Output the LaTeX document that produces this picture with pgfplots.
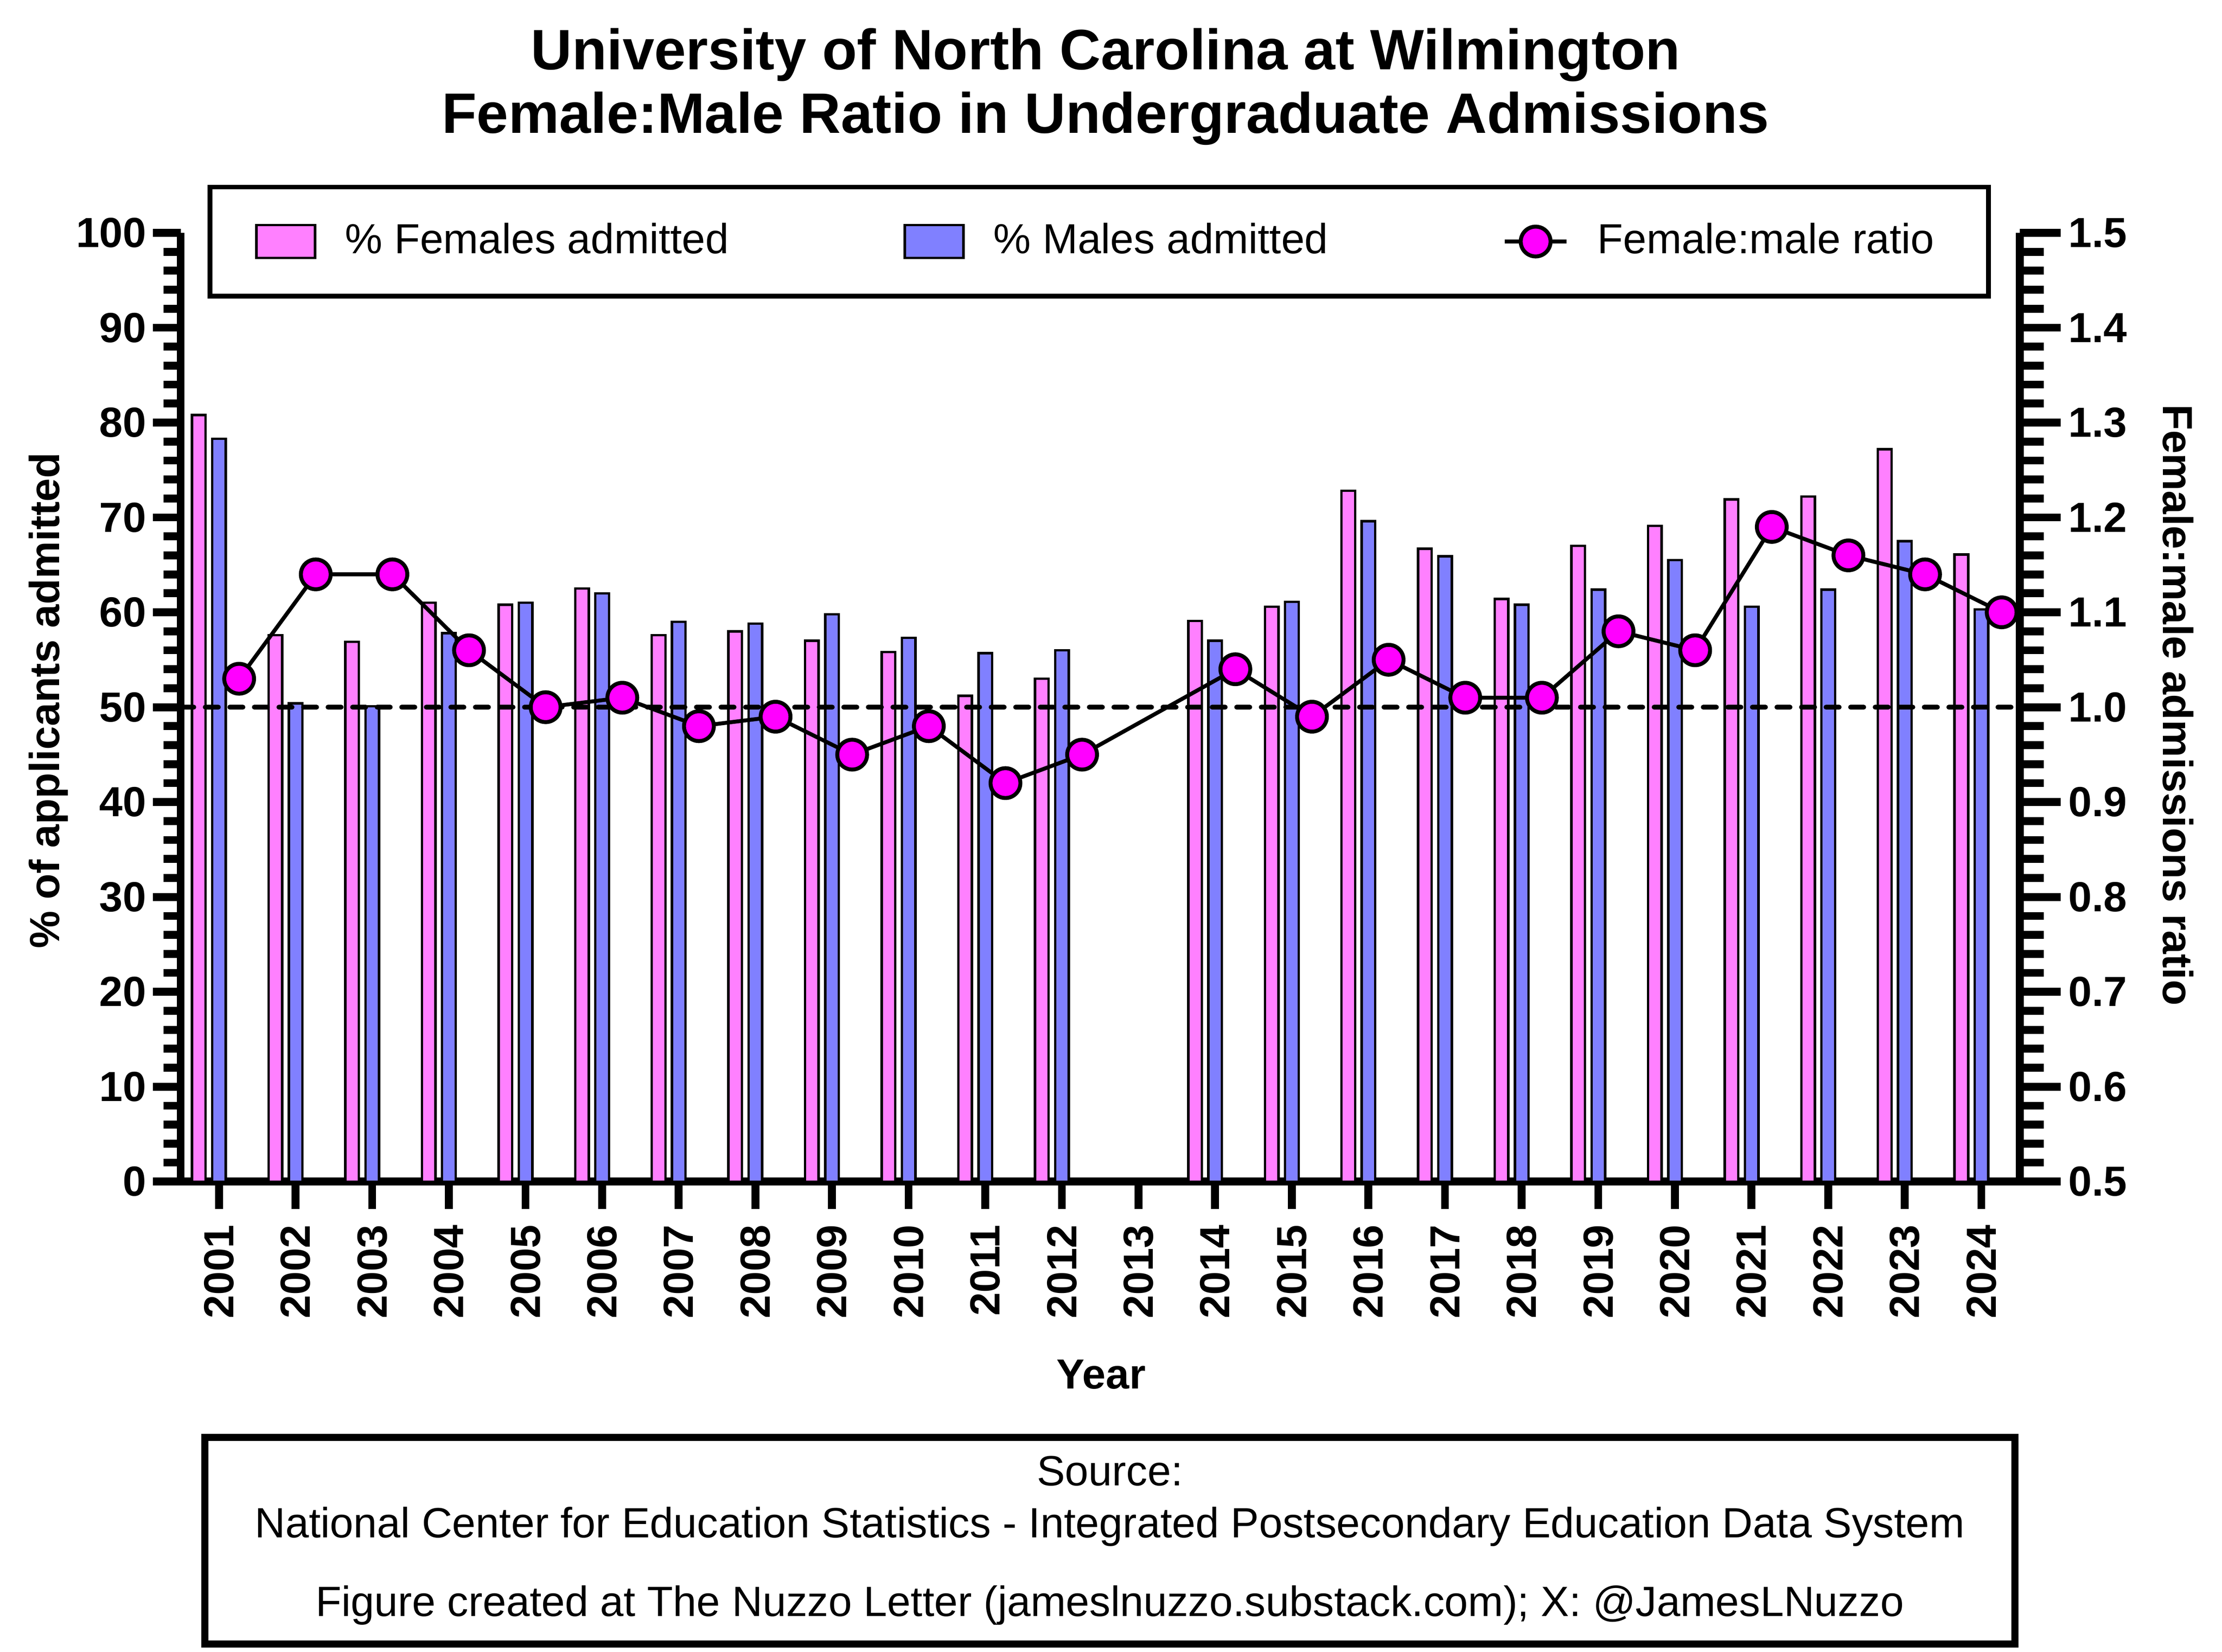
\documentclass[border=0pt]{standalone}
\usepackage{fontspec}
\setmainfont{Liberation Sans}
\usepackage{pgfplots}
\pgfplotsset{compat=1.18}
\usepackage{pgfplotstable}
\definecolor{pinkF}{RGB}{255,128,255}
\definecolor{blueM}{RGB}{128,128,255}
\definecolor{magM}{RGB}{255,0,255}

\pgfplotstableread{
year F M R
2001 80.8 78.3 1.03
2002 57.6 50.4 1.14
2003 56.9 50.1 1.14
2004 61.0 57.8 1.06
2005 60.8 61.0 1.00
2006 62.5 62.0 1.01
2007 57.6 59.0 0.98
2008 58.0 58.8 0.99
2009 57.0 59.8 0.95
2010 55.8 57.3 0.98
2011 51.2 55.7 0.92
2012 53.0 56.0 0.95
2014 59.1 57.0 1.04
2015 60.6 61.1 0.99
2016 72.8 69.6 1.05
2017 66.7 65.9 1.01
2018 61.4 60.8 1.01
2019 67.0 62.4 1.08
2020 69.1 65.5 1.06
2021 71.9 60.6 1.19
2022 72.2 62.4 1.16
2023 77.2 67.5 1.14
2024 66.1 60.3 1.10
}\data

\pgfplotsset{
  barlegend/.style={legend image code/.code={\draw[##1] (0pt,-3.75pt) rectangle (13.4pt,3.75pt);}},
  ratiolegend/.style={legend image code/.code={\draw[mark repeat=2,mark phase=2,##1] plot coordinates {(0pt,0pt) (7.05pt,0pt) (14.1pt,0pt)};}},
  common/.style={
    width=419.4pt, height=216.4pt, scale only axis,
    xmin=2000.5, xmax=2024.5,
    clip=false,
    axis line style={line width=1.8pt, black},
    tick style={line width=1.8pt, black},
    tick align=outside,
    /pgf/number format/assume math mode=true,
    /pgf/number format/1000 sep={},
    ticklabel style={font=\bfseries\fontsize{9.6}{11}\selectfont},
    label style={font=\bfseries\fontsize{9.6}{11}\selectfont},
  }
}

\begin{document}
\begin{tikzpicture}
\useasboundingbox (-41.2pt,-107.2pt) rectangle (465.5pt,269.5pt);

\node[anchor=base, font=\bfseries\fontsize{13}{15.5}\selectfont] at (210.9pt,253.6pt) {University of North Carolina at Wilmington};
\node[anchor=base, font=\bfseries\fontsize{13}{15.5}\selectfont] at (210.9pt,239.1pt) {Female:Male Ratio in Undergraduate Admissions};

\begin{axis}[common,
  axis x line*=bottom, axis y line*=left,
  ymin=0, ymax=100,
  xtick={2001,...,2024},
  ytick={0,10,...,100},
  minor y tick num=4,
  major tick length=6.3pt, minor tick length=3.9pt,
  xticklabel style={rotate=90, anchor=east},
  yticklabel style={xshift=2pt},
  xlabel={Year},
  ylabel={\% of applicants admitted},
  xlabel style={at={(axis description cs:0.5005,-0.2181)}, anchor=base},
  ylabel style={at={(axis description cs:-0.066,0.507)}, anchor=base},
]
\addplot[ybar, bar width=3.1pt, bar shift=-4.6pt, fill=pinkF, draw=black, line width=0.55pt] table[x=year, y=F] {\data};
\addplot[ybar, bar width=3.1pt, bar shift=0pt, fill=blueM, draw=black, line width=0.55pt] table[x=year, y=M] {\data};
\addplot[black, line width=1.1pt, dash pattern=on 3pt off 2.6pt, line cap=round] coordinates {(2000.5,50) (2024.5,50)};
\end{axis}

\begin{axis}[common,
  axis x line=none, axis y line*=right,
  ymin=0.5, ymax=1.5,
  ytick={0.5,0.6,0.7,0.8,0.9,1.0,1.1,1.2,1.3,1.4,1.5},
  minor y tick num=4,
  major tick length=9.3pt, minor tick length=5.5pt,
  yticklabel style={xshift=-1.7pt, /pgf/number format/fixed, /pgf/number format/fixed zerofill, /pgf/number format/precision=1},
  ylabel={Female:male admissions ratio},
  ylabel style={at={(axis description cs:1.078,0.5023)}, anchor=base, rotate=180},
  legend columns=3,
  legend cell align=left,
  legend style={at={(axis description cs:0.4994,0.9908)}, anchor=center, draw=black, line width=1.1pt, fill=white,
    font=\fontsize{9.6}{11}\selectfont, inner xsep=10.3pt, inner ysep=6.2pt,
    /tikz/every even column/.append style={column sep=37.8pt},
    /tikz/every odd column/.append style={column sep=4.6pt}},
]
\addlegendimage{barlegend, draw=black, fill=pinkF, line width=0.55pt}
\addlegendentry{\% Females admitted}
\addlegendimage{barlegend, draw=black, fill=blueM, line width=0.55pt}
\addlegendentry{\% Males admitted}
\addplot[black, line width=0.9pt, mark=*, mark size=3.4pt, mark options={fill=magM, draw=black, solid}, ratiolegend] table[x expr=\thisrow{year}+0.263, y=R] {\data};
\addlegendentry{Female:male ratio}
\end{axis}

\draw[line width=1.6pt] (5.5pt,-58.3pt) rectangle (418.3pt,-105.5pt);
\node[anchor=base, font=\fontsize{9.65}{11}\selectfont] at (211.9pt,-69.3pt) {Source:};
\node[anchor=base, font=\fontsize{9.65}{11}\selectfont] at (211.9pt,-81.2pt) {National Center for Education Statistics - Integrated Postsecondary Education Data System};
\node[anchor=base, font=\fontsize{9.65}{11}\selectfont] at (211.9pt,-99.1pt) {Figure created at The Nuzzo Letter (jameslnuzzo.substack.com); X: @JamesLNuzzo};
\end{tikzpicture}
\end{document}
